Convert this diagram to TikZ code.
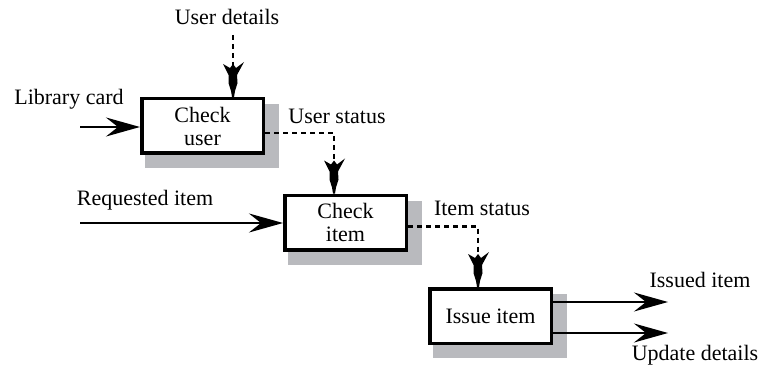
\documentclass[tikz,border=0pt]{standalone}
\usepackage{fontspec}
\setmainfont{Liberation Serif}
\usetikzlibrary{arrows.meta,backgrounds,calc}
\definecolor{shadowgray}{RGB}{185,186,190}
\begin{document}
\begin{tikzpicture}[x=1pt,y=-1pt,
  every node/.style={font=\fontsize{22}{23}\selectfont, inner sep=0pt},
  proc/.style={draw, line width=3.5pt, fill=white, minimum width=121.5pt,
    minimum height=54.5pt, align=center},
  lbl/.style={anchor=base},
  flow/.style={line width=2pt, -{Stealth[length=34pt,width=19pt,inset=12pt]}},
  ctrl/.style={line width=2.5pt, dash pattern=on 5pt off 4pt, shorten >=24pt},
  vtip/.pic={
    \fill (-1,0) -- (1,0) -- (2,-6) -- (4.5,-14) -- (4,-22) -- (11,-35) -- (3,-29)
      -- (0,-33) -- (-3,-29) -- (-10,-33) -- (-4.5,-22) -- (-4.5,-14) -- (-2,-6) -- cycle;
  }]
\useasboundingbox (0,0) rectangle (767,374);

% process boxes
\node[proc] (b1) at (202.5,126) {Check\\user};
\node[proc] (b2) at (345.5,222.5) {Check\\item};
\node[proc] (b3) at (490.5,316) {Issue item};

% drop shadows
\begin{pgfonlayer}{background}
  \foreach \b in {b1,b2,b3}
    \fill[shadowgray] ($(\b.north west)+(5,7)$) rectangle ($(\b.south east)+(14,13)$);
\end{pgfonlayer}

% labels
\node[lbl] (tud) at (227,25) {User details};
\node[lbl] (tlc) at (69,105) {Library card};
\node[lbl] (tus) at (337,124) {User status};
\node[lbl] (tri) at (145,205) {Requested item};
\node[lbl] (tis) at (482,215) {Item status};
\node[lbl] (tii) at (700,287) {Issued item};
\node[lbl] (tup) at (695,360) {Update details};

% data flows
\coordinate (lc) at (80,127);
\draw[flow] (lc) -- (lc -| b1.west);
\coordinate (ri) at (80,223);
\draw[flow] (ri) -- (ri -| b2.west);
\coordinate (oi) at (668,302);
\draw[flow] (oi -| b3.east) -- (oi);
\coordinate (ou) at (668,333);
\draw[flow] (ou -| b3.east) -- (ou);

% control flows: dashed line ending in a feathered head on the box
\coordinate (ud) at (233,35);
\coordinate (e1) at (ud |- b1.north);
\draw[ctrl] (ud) -- (e1);
\pic at (e1) {vtip};

\coordinate (e2) at ($(b2.north)+(-11.5,0)$);
\draw[ctrl] ($(b1.east)+(0,7)$) -| (e2);
\pic at (e2) {vtip};

\coordinate (e3) at ($(b3.north)+(-12.5,0)$);
\draw[ctrl] ($(b2.east)+(0,4)$) -| (e3);
\pic at (e3) {vtip};
\end{tikzpicture}
\end{document}
